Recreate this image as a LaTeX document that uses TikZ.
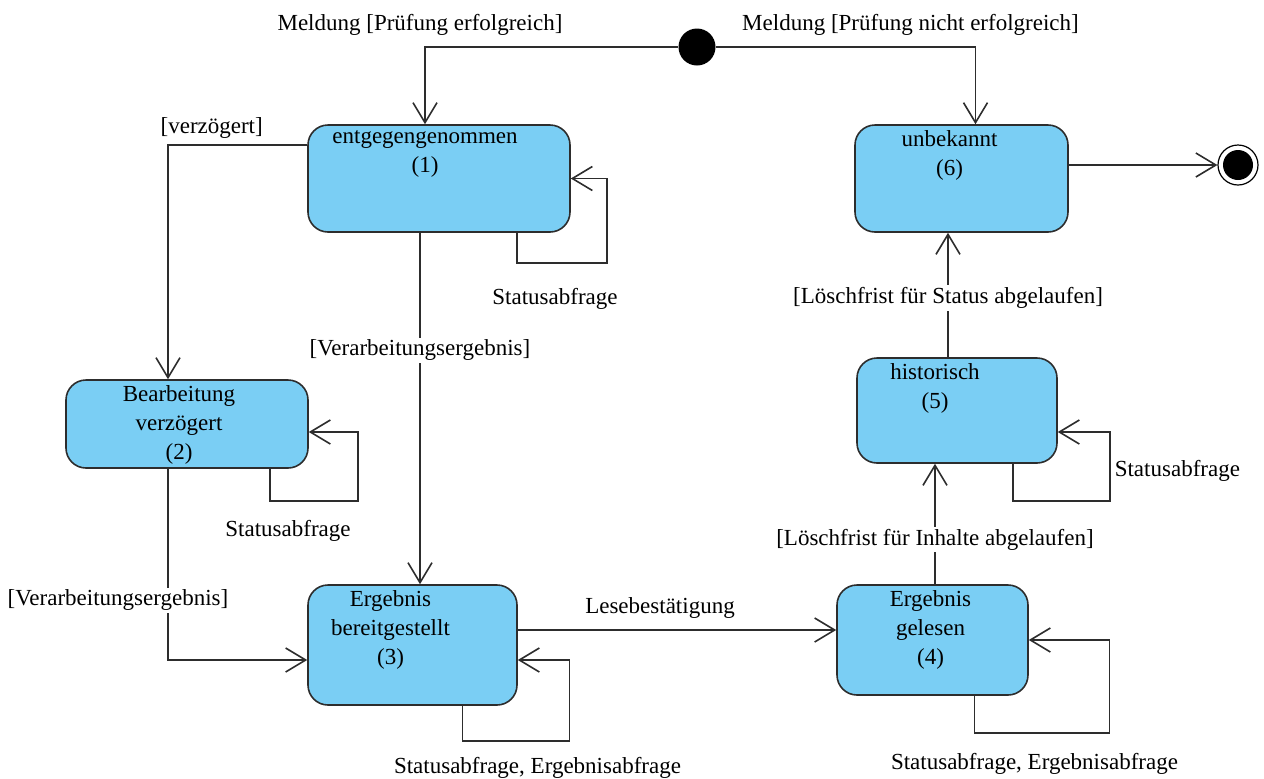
\documentclass[tikz,border=0pt]{standalone}
\usepackage{fontspec}
\setmainfont{Liberation Serif}
\usetikzlibrary{arrows.meta, positioning}
\definecolor{stateblue}{RGB}{122,206,244}
\definecolor{edgegray}{RGB}{45,45,45}

\begin{document}
\begin{tikzpicture}[x=0.5pt, y=-0.5pt,
		state/.style={draw=edgegray, line width=0.8pt, fill=stateblue, rectangle, rounded corners=10pt},
		stxt/.style={anchor=north, align=center, inner sep=1pt, yshift=-2pt, font=\fontsize{11.5}{14.5}\selectfont},
		lbl/.style={inner sep=1pt, font=\fontsize{11.5}{14}\selectfont},
		trans/.style={draw=edgegray, line width=0.8pt, -{Straight Barb[length=10pt, width=12pt]}},
		initial/.style={circle, fill=black, minimum size=18.5pt, inner sep=0pt},
		final/.style={circle, draw=black, line width=0.6pt, minimum size=20pt, inner sep=0pt,
			path picture={\fill[black] (path picture bounding box.center) circle (7.5pt);}}]
	\useasboundingbox (0,0) rectangle (1264,778);

	\node (init) [initial] at (697,47) {};
	\node (final) [final] at (1238,165) {};

	\node (s1) [state, minimum width=131pt, minimum height=53.5pt,
		label={[stxt, xshift=-7pt]north:entgegengenommen\\(1)}] at (439,178.5) {};
	\node (s2) [state, minimum width=121pt, minimum height=44pt,
		label={[stxt, xshift=-4pt]north:Bearbeitung\\verzögert\\(2)}] at (187,424) {};
	\node (s3) [state, minimum width=104.5pt, minimum height=60pt,
		label={[stxt, xshift=-11pt]north:Ergebnis\\bereitgestellt\\(3)}] at (412.5,645) {};
	\node (s4) [state, minimum width=95.5pt, minimum height=55pt,
		label={[stxt, xshift=-1pt]north:Ergebnis\\gelesen\\(4)}] at (932.5,640) {};
	\node (s5) [state, minimum width=100pt, minimum height=52.5pt,
		label={[stxt, xshift=-11pt]north:historisch\\(5)}] at (957,410.5) {};
	\node (s6) [state, minimum width=106.5pt, minimum height=53.5pt,
		label={[stxt, xshift=-6pt]north:unbekannt\\(6)}] at (961.5,178.5) {};

	% transitions between states
	\draw[trans] (init) -| node[lbl, pos=0.5, yshift=11pt, xshift=-2.5pt] {Meldung [Prüfung erfolgreich]} ([xshift=-7pt]s1.north);
	\draw[trans] (init) -| node[lbl, pos=0.5, yshift=11pt, xshift=-32.5pt] {Meldung [Prüfung nicht erfolgreich]} ([xshift=7pt]s6.north);
	\draw[trans] ([yshift=16.75pt]s1.west) -| node[lbl, pos=0.343, yshift=8.5pt] {[verzögert]} ([xshift=-9.5pt]s2.north);
	\draw[trans] ([xshift=-9.5pt]s1.south) -- node[lbl, fill=white, pos=0.334] {[Verarbeitungsergebnis]} ([xshift=3.75pt]s3.north);
	\draw[trans] ([xshift=-9.5pt]s2.south) |- node[lbl, fill=white, pos=0.344, xshift=-25pt] {[Verarbeitungsergebnis]} ([yshift=-7.5pt]s3.west);
	\draw[trans] ([yshift=7.5pt]s3.east) -- node[lbl, yshift=11pt, xshift=-8.5pt] {Lesebestätigung} ([yshift=5pt]s4.west);
	\draw[trans] ([xshift=1.25pt]s4.north) -- node[lbl, fill=white, pos=0.37] {[Löschfrist für Inhalte abgelaufen]} ([xshift=-11pt]s5.south);
	\draw[trans] ([xshift=-4.5pt]s5.north) -- node[lbl, fill=white, pos=0.476] {[Löschfrist für Status abgelaufen]} ([xshift=-6.75pt]s6.south);
	\draw[trans] ([yshift=6.75pt]s6.east) -- (final);

	% self loops
	\draw[trans] ([xshift=39pt]s1.south) |- node[lbl, pos=0.75, xshift=-3.5pt, yshift=-18pt] {Statusabfrage} ++(45pt,-15pt) |- (s1.east);
	\draw[trans] ([xshift=41.5pt]s2.south) |- node[lbl, pos=0.75, xshift=-13pt, yshift=-15pt] {Statusabfrage} ++(44pt,-16pt) |- ([yshift=-4pt]s2.east);
	\draw[trans] ([xshift=25pt]s3.south) |- node[lbl, pos=0.75, xshift=10.75pt, yshift=-13.5pt] {Statusabfrage, Ergebnisabfrage} ++(53.5pt,-17.5pt) |- ([yshift=-7.5pt]s3.east);
	\draw[trans] ([xshift=21pt]s4.south) |- node[lbl, pos=0.75, xshift=-3.75pt, yshift=-15.5pt] {Statusabfrage, Ergebnisabfrage} ++(67.5pt,-18.5pt) |- (s4.east);
	\draw[trans] ([xshift=28pt]s5.south) |- ++(48.5pt,-18.5pt) |- node[lbl, pos=0.25, anchor=west, xshift=1pt, yshift=-2pt] {Statusabfrage} ([yshift=-10.75pt]s5.east);
\end{tikzpicture}
\end{document}
